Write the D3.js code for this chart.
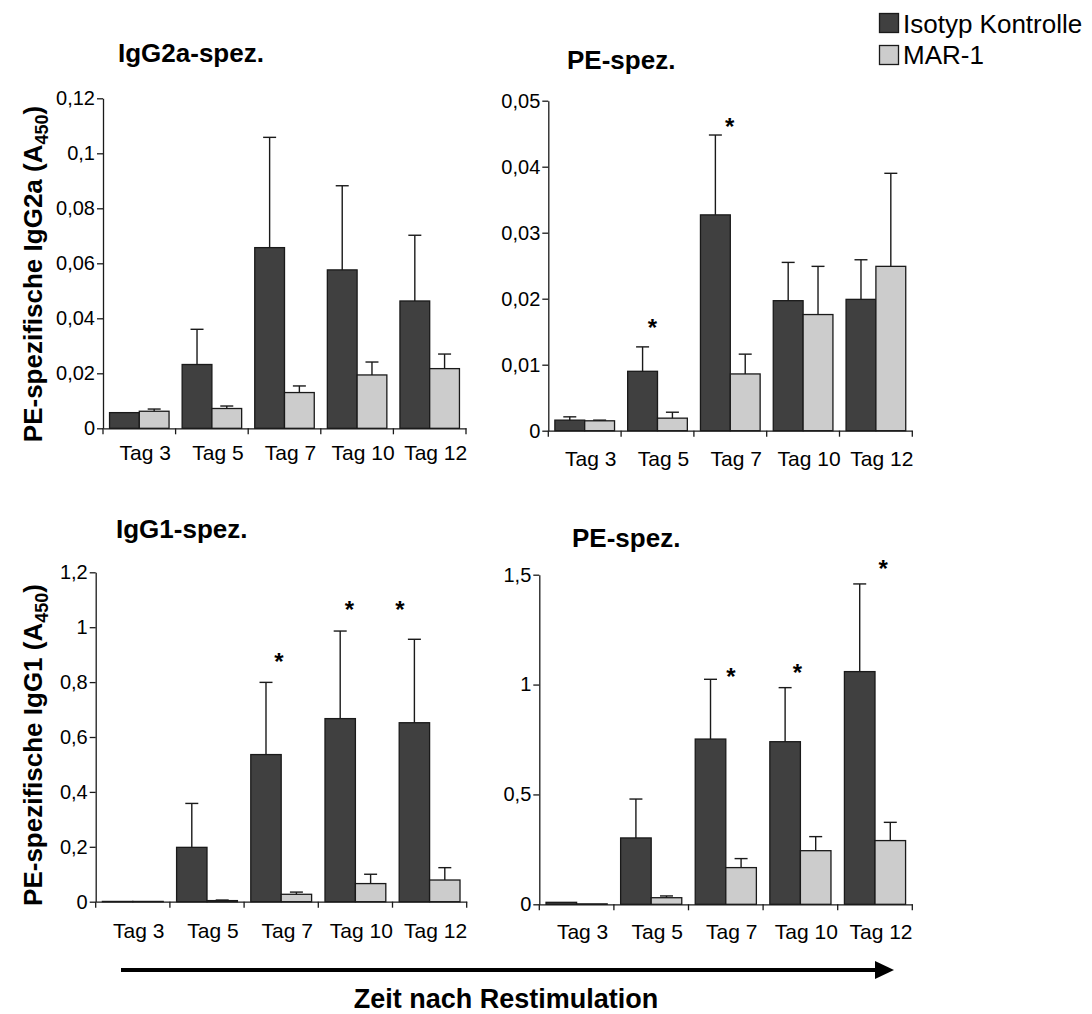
<!DOCTYPE html>
<html>
<head>
<meta charset="utf-8">
<script src="https://cdn.jsdelivr.net/npm/d3@7"></script>
<style>
  html, body { margin: 0; padding: 0; background: #fff; }
  svg text { font-family: "Liberation Sans", Arial, sans-serif; fill: #000; }
</style>
</head>
<body>
<svg id="chart" width="1092" height="1014"></svg>
<script>
// Categories and series
const tags = ["Tag 3", "Tag 5", "Tag 7", "Tag 10", "Tag 12"];
const series = ["Isotyp Kontrolle", "MAR-1"];
const seriesColors = ["#404040", "#cccccc"];

// IgG2a-spezifisch (A450), mean and SD
const igg2aKontrolle   = [0.0057, 0.0232, 0.0657, 0.0576, 0.0463];
const igg2aKontrolleSD = [0, 0.0128, 0.0401, 0.0306, 0.0239];
const igg2aMar1        = [0.0062, 0.0072, 0.0130, 0.0194, 0.0217];
const igg2aMar1SD      = [0.0008, 0.0009, 0.0024, 0.0047, 0.0053];
const igg2aTicks       = [0, 0.02, 0.04, 0.06, 0.08, 0.1, 0.12];

// PE-spezifisch IgG2a (A450)
const peIgg2aKontrolle   = [0.0016, 0.0090, 0.0327, 0.0197, 0.0199];
const peIgg2aKontrolleSD = [0.0005, 0.0037, 0.0121, 0.0058, 0.0060];
const peIgg2aMar1        = [0.0015, 0.0019, 0.0086, 0.0176, 0.0249];
const peIgg2aMar1SD      = [0.0001, 0.0009, 0.0030, 0.0073, 0.0141];
const peIgg2aTicks       = [0, 0.01, 0.02, 0.03, 0.04, 0.05];
// significance marks: category, height in axis units, anchor within the band
const peIgg2aStars = [["Tag 5", 0.0165, 0.43], ["Tag 7", 0.0469, 0.49]];

// IgG1-spezifisch (A450)
const igg1Kontrolle   = [0.001, 0.198, 0.536, 0.667, 0.652];
const igg1KontrolleSD = [0, 0.160, 0.263, 0.319, 0.304];
const igg1Mar1        = [0.001, 0.004, 0.027, 0.066, 0.079];
const igg1Mar1SD      = [0, 0.002, 0.008, 0.034, 0.045];
const igg1Ticks       = [0, 0.2, 0.4, 0.6, 0.8, 1, 1.2];
const igg1Stars = [["Tag 7", 0.893, 0.47], ["Tag 10", 1.083, 0.42], ["Tag 12", 1.083, 0.10]];

// PE-spezifisch IgG1 (A450)
const peIgg1Kontrolle   = [0.009, 0.302, 0.752, 0.740, 1.059];
const peIgg1KontrolleSD = [0, 0.177, 0.272, 0.246, 0.399];
const peIgg1Mar1        = [0.002, 0.030, 0.167, 0.244, 0.290];
const peIgg1Mar1SD      = [0, 0.008, 0.041, 0.064, 0.083];
const peIgg1Ticks       = [0, 0.5, 1, 1.5];
const peIgg1Stars = [["Tag 7", 1.061, 0.57], ["Tag 10", 1.081, 0.46], ["Tag 12", 1.553, 0.61]];

const svg = d3.select("#chart");
const fmt = v => d3.format("~g")(v).replace(".", ",");

const panels = [
  { title: "IgG2a-spez.", titleX: 118, titleY: 62,
    box: { left: 103, right: 466, top: 98.3, bottom: 428.3 }, labelY: 460,
    values: [igg2aKontrolle, igg2aMar1], sds: [igg2aKontrolleSD, igg2aMar1SD],
    ticks: igg2aTicks, stars: [] },
  { title: "PE-spez.", titleX: 567, titleY: 69,
    box: { left: 548.3, right: 912.3, top: 100.7, bottom: 430.7 }, labelY: 466,
    values: [peIgg2aKontrolle, peIgg2aMar1], sds: [peIgg2aKontrolleSD, peIgg2aMar1SD],
    ticks: peIgg2aTicks, stars: peIgg2aStars },
  { title: "IgG1-spez.", titleX: 116, titleY: 538,
    box: { left: 95.7, right: 466.7, top: 572.3, bottom: 901.7 }, labelY: 938,
    values: [igg1Kontrolle, igg1Mar1], sds: [igg1KontrolleSD, igg1Mar1SD],
    ticks: igg1Ticks, stars: igg1Stars },
  { title: "PE-spez.", titleX: 572, titleY: 546.5,
    box: { left: 539.3, right: 912.3, top: 574.7, bottom: 904.3 }, labelY: 939,
    values: [peIgg1Kontrolle, peIgg1Mar1], sds: [peIgg1KontrolleSD, peIgg1Mar1SD],
    ticks: peIgg1Ticks, stars: peIgg1Stars }
];

const ink = "#1a1a1a";

panels.forEach(p => {
  const b = p.box;
  const x = d3.scaleBand().domain(tags).range([b.left, b.right]).padding(0);
  const xs = d3.scaleBand().domain(series).range([0, x.bandwidth()])
    .paddingInner(0).paddingOuter(0.22);
  const y = d3.scaleLinear().domain([0, d3.max(p.ticks)]).range([b.bottom, b.top]);

  const g = svg.append("g");

  // title
  g.append("text").attr("x", p.titleX).attr("y", p.titleY)
    .attr("font-size", 26).attr("font-weight", "bold").text(p.title);

  // bars
  series.forEach((s, si) => {
    const rows = tags.map((t, i) => ({ t, v: p.values[si][i], sd: p.sds[si][i] }));
    g.append("g").selectAll("rect").data(rows).join("rect")
      .attr("x", d => x(d.t) + xs(s))
      .attr("y", d => y(d.v))
      .attr("width", xs.bandwidth())
      .attr("height", d => y(0) - y(d.v))
      .attr("fill", seriesColors[si])
      .attr("stroke", ink).attr("stroke-width", 1.3);

    // upward error bars
    const eb = g.append("g").selectAll("g").data(rows.filter(d => d.sd > 0)).join("g")
      .attr("stroke", ink).attr("stroke-width", 1.4);
    const cx = d => x(d.t) + xs(s) + xs.bandwidth() / 2;
    eb.append("line")
      .attr("x1", cx).attr("x2", cx)
      .attr("y1", d => y(d.v)).attr("y2", d => y(d.v + d.sd));
    eb.append("line")
      .attr("x1", d => cx(d) - 6.5).attr("x2", d => cx(d) + 6.5)
      .attr("y1", d => y(d.v + d.sd)).attr("y2", d => y(d.v + d.sd));
  });

  // y axis
  const yAxis = d3.axisLeft(y).tickValues(p.ticks).tickFormat(fmt)
    .tickSize(6).tickPadding(2).tickSizeOuter(0);
  const ya = g.append("g").attr("transform", `translate(${b.left},0)`).call(yAxis);
  ya.selectAll("path, line").attr("stroke", ink).attr("stroke-width", 1.3);
  ya.selectAll("text").attr("font-size", 20).attr("fill", "#000");

  // x axis line with ticks on the category boundaries
  const xAxis = d3.axisBottom(x).tickSize(0).tickFormat("").tickSizeOuter(0);
  const xa = g.append("g").attr("transform", `translate(0,${b.bottom})`).call(xAxis);
  xa.selectAll("path").attr("stroke", ink).attr("stroke-width", 1.3);
  const bounds = tags.map(t => x(t)).concat([x.range()[1]]);
  g.append("g").selectAll("line").data(bounds).join("line")
    .attr("x1", d => d).attr("x2", d => d)
    .attr("y1", b.bottom).attr("y2", b.bottom + 6)
    .attr("stroke", ink).attr("stroke-width", 1.3);

  g.append("g").selectAll("text").data(tags).join("text")
    .attr("x", t => x(t) + x.bandwidth() / 2 + 6)
    .attr("y", p.labelY)
    .attr("text-anchor", "middle").attr("font-size", 21)
    .text(t => t);

  // significance marks
  g.append("g").selectAll("text").data(p.stars).join("text")
    .attr("x", d => x(d[0]) + x.bandwidth() * d[2])
    .attr("y", d => y(d[1]))
    .attr("dy", "0.58em")
    .attr("text-anchor", "middle").attr("font-size", 24).attr("font-weight", "bold")
    .text("*");
});

// y axis titles
function yTitle(text, cx, cy) {
  const t = svg.append("text")
    .attr("transform", `translate(${cx},${cy}) rotate(-90)`)
    .attr("text-anchor", "middle").attr("font-size", 26).attr("font-weight", "bold");
  t.append("tspan").text(text + " (A");
  t.append("tspan").attr("font-size", 18).attr("dy", 6).text("450");
  t.append("tspan").attr("dy", -6).text(")");
}
yTitle("PE-spezifische IgG2a", 42, 274);
yTitle("PE-spezifische IgG1", 42, 745);

// legend
const legend = svg.append("g");
series.forEach((s, i) => {
  legend.append("rect").attr("x", 879.5).attr("y", 13.5 + i * 32).attr("width", 19).attr("height", 19)
    .attr("fill", seriesColors[i]).attr("stroke", ink).attr("stroke-width", 1.3);
  legend.append("text").attr("x", 903).attr("y", 33 + i * 31).attr("font-size", 26).text(s);
});

// time arrow
svg.append("line").attr("x1", 121).attr("x2", 880).attr("y1", 970).attr("y2", 970)
  .attr("stroke", "#000").attr("stroke-width", 4);
svg.append("path").attr("d", "M875,961 L894,970 L875,979 Z").attr("fill", "#000");
svg.append("text").attr("x", 506).attr("y", 1008).attr("text-anchor", "middle")
  .attr("font-size", 27).attr("font-weight", "bold").text("Zeit nach Restimulation");
</script>
</body>
</html>
